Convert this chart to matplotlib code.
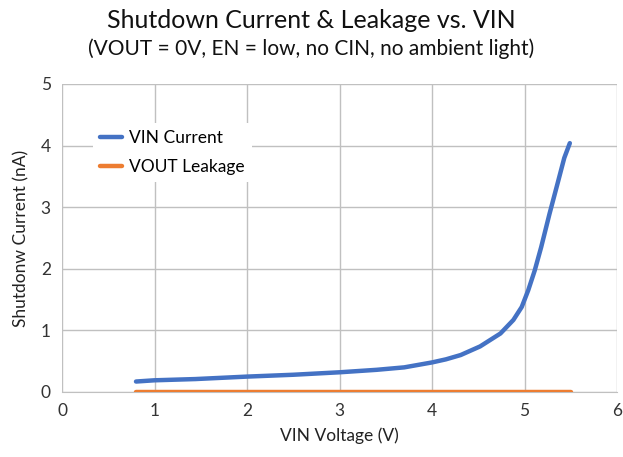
import matplotlib.pyplot as plt

plt.rcParams['font.family'] = ['Lato', 'DejaVu Sans']

# data
vin_v = [0.8, 1.0, 1.44, 2.0, 2.5, 3.0, 3.4, 3.7, 4.0, 4.15, 4.31, 4.52, 4.74, 4.88, 4.97, 5.04,
         5.11, 5.18, 5.27, 5.36, 5.43, 5.49]
vin_current = [0.17, 0.19, 0.21, 0.25, 0.28, 0.32, 0.36, 0.40, 0.48, 0.53, 0.60, 0.74, 0.95, 1.17, 1.38, 1.65,
               1.97, 2.35, 2.89, 3.40, 3.80, 4.04]
vout_v = [0.8, 5.5]
vout_leak = [0.0, 0.0]

blue = '#4472C4'
orange = '#ED7D31'

fig = plt.figure(figsize=(6.23, 4.57), dpi=100)
ax = fig.add_axes([62 / 623, 1 - 392 / 457, (617 - 62) / 623, (392 - 84) / 457])

ax.plot(vin_v, vin_current, color=blue, lw=3.2, solid_capstyle='round', solid_joinstyle='round',
        label='VIN Current', zorder=3)
ax.plot(vout_v, vout_leak, color=orange, lw=3.2, solid_capstyle='round', label='VOUT Leakage', zorder=3)

ax.set_xlim(0, 6)
ax.set_ylim(0, 5)
ax.set_xticks(range(0, 7))
ax.set_yticks(range(0, 6))
ax.grid(True, color='#c0c0c0', lw=1)
ax.set_axisbelow(True)
for s in ['top', 'right', 'left']:
    ax.spines[s].set_visible(False)
ax.spines['bottom'].set_color('#c0c0c0')
ax.tick_params(length=0, labelsize=12.5, colors='#333333', pad=8)

ax.set_xlabel('VIN Voltage (V)', fontsize=12.5, color='#222222', labelpad=6)
ax.set_ylabel('Shutdonw Current (nA)', fontsize=12.5, color='#222222', labelpad=8)

leg = ax.legend(loc='upper left', bbox_to_anchor=(0.04, 0.9), frameon=True, fontsize=12.5,
                handlelength=1.3, handletextpad=0.4, labelspacing=0.7, borderpad=0.4)
leg.get_frame().set_facecolor('white')
leg.get_frame().set_edgecolor('none')
leg.get_frame().set_alpha(1)

fig.text(0.5, 1 - 20 / 457, 'Shutdown Current & Leakage vs. VIN', ha='center', va='center',
         fontsize=18, color='#111111')
fig.text(0.5, 1 - 49 / 457, '(VOUT = 0V, EN = low, no CIN, no ambient light)', ha='center', va='center',
         fontsize=15, color='#111111')

fig.savefig('out.png', dpi=100, facecolor='white')
